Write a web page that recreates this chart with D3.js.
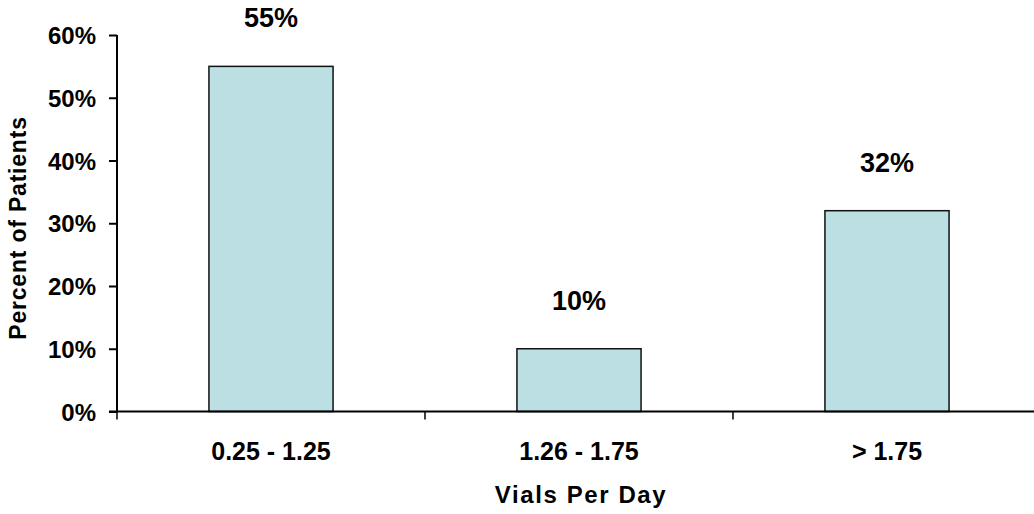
<!DOCTYPE html>
<html>
<head>
<meta charset="utf-8">
<script src="https://cdn.jsdelivr.net/npm/d3@7"></script>
<style>
  html, body { margin: 0; padding: 0; background: #fff; }
  svg { display: block; }
  text { font-family: "Liberation Sans", Arial, sans-serif; font-weight: bold; fill: #000; }
</style>
</head>
<body>
<svg id="chart" width="1034" height="514"></svg>
<script>
// Share of patients by daily vial usage
const categories = ["0.25 - 1.25", "1.26 - 1.75", "> 1.75"];
const percents = [55, 10, 32];
const yTicks = [0, 10, 20, 30, 40, 50, 60];

(function draw() {
  const svg = d3.select("#chart");
  const plotLeft = 117, plotRight = 1041, plotTop = 35, plotBottom = 411.5;

  const xTicksScale = d3.scaleBand().domain(categories).range([plotLeft, plotRight]).padding(0);
  const x = d3.scaleBand().domain(categories).range([plotLeft, plotRight])
    .paddingInner(0.597).paddingOuter(0.2985);
  const y = d3.scaleLinear().domain([0, 60]).range([plotBottom, plotTop]);

  // Bars
  svg.append("g").selectAll("rect").data(categories).join("rect")
    .attr("x", d => x(d))
    .attr("y", (d, i) => y(percents[i]))
    .attr("width", x.bandwidth())
    .attr("height", (d, i) => y(0) - y(percents[i]))
    .attr("fill", "#BCDFE4")
    .attr("stroke", "#111")
    .attr("stroke-width", 1.5);

  // Value labels
  svg.append("g").selectAll("text").data(categories).join("text")
    .attr("x", d => x(d) + x.bandwidth() / 2)
    .attr("y", (d, i) => y(percents[i]) - 39)
    .attr("text-anchor", "middle")
    .attr("font-size", 27)
    .text((d, i) => percents[i] + "%");

  // Y axis
  const yAxis = svg.append("g")
    .attr("transform", `translate(${plotLeft},0)`)
    .call(d3.axisLeft(y).tickValues(yTicks).tickFormat(d => d + "%").tickSize(8).tickPadding(13));
  yAxis.selectAll(".domain").attr("stroke", "#000").attr("stroke-width", 2).attr("d", `M0,${plotTop}V${plotBottom}`);
  yAxis.selectAll(".tick line").attr("stroke", "#000").attr("stroke-width", 2);
  yAxis.selectAll(".tick text")
    .attr("font-size", 24)
    .attr("font-family", "Liberation Sans, Arial, sans-serif")
    .attr("font-weight", "bold")
    .attr("dy", "0.36em");

  // X axis: boundary ticks between categories
  const xAxis = svg.append("g")
    .attr("transform", `translate(0,${plotBottom})`);
  xAxis.append("line")
    .attr("x1", plotLeft - 8).attr("x2", plotRight).attr("y1", 0).attr("y2", 0)
    .attr("stroke", "#000").attr("stroke-width", 2);
  const boundaries = categories.map(d => xTicksScale(d)).concat([plotRight]);
  xAxis.selectAll("line.bt").data(boundaries).join("line")
    .attr("class", "bt")
    .attr("x1", d => d).attr("x2", d => d)
    .attr("y1", 0).attr("y2", 8)
    .attr("stroke", "#000").attr("stroke-width", 1.5);
  xAxis.selectAll("text").data(categories).join("text")
    .attr("x", d => xTicksScale(d) + xTicksScale.bandwidth() / 2)
    .attr("y", 48)
    .attr("text-anchor", "middle")
    .attr("font-size", 25)
    .text(d => d);

  // Axis titles
  svg.append("text")
    .attr("x", 581).attr("y", 503)
    .attr("text-anchor", "middle")
    .attr("font-size", 24)
    .attr("letter-spacing", 1.6)
    .text("Vials Per Day");

  svg.append("text")
    .attr("transform", "translate(26,228) rotate(-90)")
    .attr("text-anchor", "middle")
    .attr("font-size", 23)
    .attr("letter-spacing", 0.8)
    .text("Percent of Patients");
})();
</script>
</body>
</html>
